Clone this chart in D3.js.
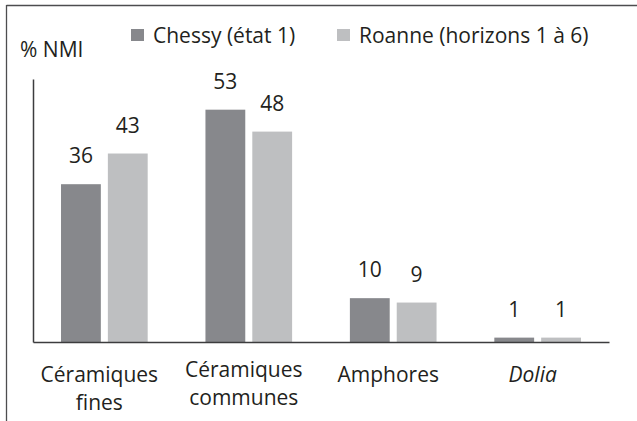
<!DOCTYPE html>
<html>
<head>
<meta charset="utf-8">
<script src="https://cdn.jsdelivr.net/npm/d3@7"></script>
<style>
  html, body { margin: 0; padding: 0; background: #fff; }
  svg { display: block; }
  text { font-family: "Open Sans", "Noto Sans", sans-serif; fill: #231f20; }
</style>
</head>
<body>
<svg id="chart" width="637" height="421"></svg>
<script>
// Categories (label lines) and percentage of NMI per site
const categories = ["Céramiques fines", "Céramiques communes", "Amphores", "Dolia"];
const categoryLines = [["Céramiques", "fines"], ["Céramiques", "communes"], ["Amphores"], ["Dolia"]];
const seriesNames = ["Chessy (état 1)", "Roanne (horizons 1 à 6)"];
const chessy = [36, 53, 10, 1];
const roanne = [43, 48, 9, 1];
const seriesColors = ["#87888c", "#bebfc1"];
const yLabel = "% NMI";

const svg = d3.select("#chart");

// frame: top and left rules
svg.append("line").attr("x1", 6.5).attr("x2", 637).attr("y1", 5.5).attr("y2", 5.5)
  .attr("stroke", "#4d4d4f").attr("stroke-width", 1.3);
svg.append("line").attr("x1", 6.5).attr("x2", 6.5).attr("y1", 5).attr("y2", 421)
  .attr("stroke", "#4d4d4f").attr("stroke-width", 1.3);

const plot = { left: 33, right: 609, top: 79, bottom: 342 };

const x0 = d3.scaleBand().domain(categories)
  .range([plot.left, plot.right]).paddingInner(0.4).paddingOuter(0.194);
const x1 = d3.scaleBand().domain(seriesNames)
  .range([0, x0.bandwidth()]).paddingInner(0.15);
const y = d3.scaleLinear().domain([0, 60]).range([plot.bottom, plot.top]);

const rows = categories.map((c, i) => ({
  cat: c,
  lines: categoryLines[i],
  values: [chessy[i], roanne[i]]
}));

const groups = svg.append("g").selectAll("g").data(rows).join("g")
  .attr("transform", d => `translate(${x0(d.cat)},0)`);

groups.selectAll("rect").data(d => d.values.map((v, j) => ({ v, s: seriesNames[j], j })))
  .join("rect")
  .attr("x", d => x1(d.s))
  .attr("y", d => y(d.v))
  .attr("width", x1.bandwidth())
  .attr("height", d => y(0) - y(d.v))
  .attr("fill", d => seriesColors[d.j]);

groups.selectAll("text.val").data(d => d.values.map((v, j) => ({ v, s: seriesNames[j] })))
  .join("text").attr("class", "val")
  .attr("x", d => x1(d.s) + x1.bandwidth() / 2)
  .attr("y", d => y(d.v) - 21)
  .attr("text-anchor", "middle")
  .attr("font-size", 21)
  .text(d => d.v);

// axes (plain lines, no ticks)
const yAxis = d3.axisLeft(y).tickValues([]).tickSizeOuter(0);
svg.append("g").attr("transform", `translate(${plot.left},0)`).call(yAxis)
  .select(".domain").attr("stroke", "#3c3c3e").attr("stroke-width", 1.5);
const xAxisScale = d3.scaleLinear().range([plot.left, plot.right]);
svg.append("g").attr("transform", `translate(0,${plot.bottom})`)
  .call(d3.axisBottom(xAxisScale).tickValues([]).tickSizeOuter(0))
  .select(".domain").attr("stroke", "#3c3c3e").attr("stroke-width", 1.5);

// category labels
const labelShift = [0, -5, 0, 0];
svg.append("g").selectAll("text").data(rows).join("text")
  .attr("x", d => x0(d.cat) + x0.bandwidth() / 2 - 5)
  .attr("y", (d, i) => 382 + labelShift[i])
  .attr("text-anchor", "middle")
  .attr("font-size", 21)
  .attr("font-style", d => d.cat === "Dolia" ? "italic" : "normal")
  .selectAll("tspan").data(d => d.lines).join("tspan")
  .attr("x", function() { return d3.select(this.parentNode).attr("x"); })
  .attr("dy", (d, i) => i === 0 ? 0 : 28)
  .text(d => d);

// y label
svg.append("text").attr("x", 20).attr("y", 57).attr("font-size", 21).text(yLabel);

// legend
const legendX = [131, 337];
const legend = svg.append("g").selectAll("g").data(seriesNames).join("g")
  .attr("transform", (d, i) => `translate(${legendX[i]},0)`);
legend.append("rect").attr("x", 0).attr("y", 29).attr("width", 13).attr("height", 12)
  .attr("fill", (d, i) => seriesColors[i]);
legend.append("text").attr("x", 22).attr("y", 43).attr("font-size", 21).text(d => d);
</script>
</body>
</html>
